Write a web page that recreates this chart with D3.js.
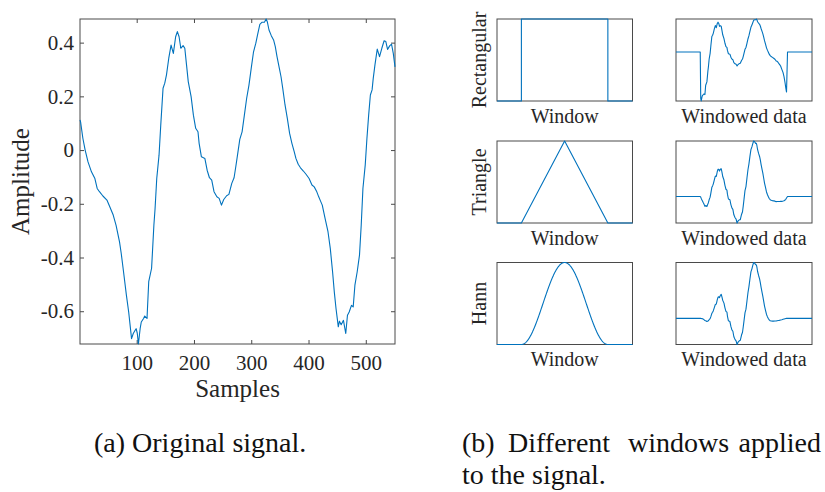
<!DOCTYPE html>
<html>
<head>
<meta charset="utf-8">
<script src="https://cdn.jsdelivr.net/npm/d3@7"></script>
<style>
  body { margin: 0; background: #fff; }
  svg { display: block; }
  text { font-family: "Liberation Serif", "DejaVu Serif", serif; fill: #262626; }
</style>
</head>
<body>
<svg id="fig" width="825" height="492"></svg>
<script>
// Recorded signal: sample index and amplitude
const sampleIdx = [
  1, 2, 6, 10, 15, 21, 27, 31, 35, 41,
  48, 53, 59, 64, 70, 73, 77, 82, 86, 91,
  94, 97, 99, 101, 103, 106, 108, 112, 114, 118,
  121, 126, 130, 132, 135, 139, 142, 146, 149, 152,
  156, 160, 164, 168, 171, 174, 177, 181, 184, 187,
  190, 195, 199, 203, 207, 209, 213, 219, 223, 227,
  231, 235, 240, 244, 248, 252, 257, 261, 266, 270,
  273, 276, 280, 284, 288, 292, 296, 300, 304, 308,
  311, 315, 319, 323, 326, 328, 331, 335, 339, 342,
  345, 349, 352, 355, 359, 363, 367, 371, 375, 378,
  382, 386, 391, 396, 401, 406, 410, 414, 418, 421,
  424, 429, 434, 438, 442, 445, 448, 452, 454, 457,
  461, 465, 468, 471, 475, 478, 481, 485, 489, 492,
  495, 499, 502, 505, 508, 511, 513, 516, 520, 524,
  528, 532, 535, 538, 542, 545, 548, 551
];
const amplitude = [
  0.112, 0.105, 0.044, 0.000, -0.044, -0.081, -0.106, -0.143, -0.155, -0.171,
  -0.186, -0.211, -0.242, -0.280, -0.342, -0.385, -0.453, -0.540, -0.603, -0.702,
  -0.683, -0.672, -0.665, -0.682, -0.722, -0.665, -0.640, -0.627, -0.618, -0.627,
  -0.490, -0.440, -0.280, -0.220, -0.106, -0.019, 0.093, 0.230, 0.249, 0.280,
  0.342, 0.391, 0.360, 0.422, 0.441, 0.422, 0.379, 0.389, 0.379, 0.317,
  0.255, 0.199, 0.130, 0.081, 0.068, 0.025, -0.025, -0.031, -0.075, -0.103,
  -0.112, -0.155, -0.174, -0.180, -0.205, -0.184, -0.170, -0.165, -0.124, -0.103,
  -0.062, -0.019, 0.040, 0.068, 0.130, 0.193, 0.242, 0.305, 0.366, 0.398,
  0.429, 0.468, 0.476, 0.476, 0.488, 0.478, 0.447, 0.426, 0.410, 0.385,
  0.348, 0.305, 0.273, 0.230, 0.168, 0.118, 0.062, 0.025, -0.006, -0.031,
  -0.053, -0.066, -0.078, -0.091, -0.106, -0.130, -0.137, -0.153, -0.175, -0.190,
  -0.205, -0.255, -0.304, -0.366, -0.453, -0.528, -0.590, -0.658, -0.637, -0.650,
  -0.634, -0.683, -0.615, -0.603, -0.578, -0.584, -0.503, -0.453, -0.391, -0.280,
  -0.143, -0.056, 0.044, 0.130, 0.205, 0.224, 0.267, 0.317, 0.376, 0.348,
  0.379, 0.407, 0.404, 0.375, 0.389, 0.394, 0.360, 0.310
];

const xTicks = [100, 200, 300, 400, 500];
const yTicks = [-0.6, -0.4, -0.2, 0, 0.2, 0.4];
const sampleRange = [1, 551];

// Window support (first and last sample inside the window)
const windowSpan = [100, 451];
const windowNames = ["Rectangular", "Triangle", "Hann"];

const LINE = "#0072BD";
const BOX = "#4a4a4a";
const SERIF = '"Liberation Serif", "DejaVu Serif", serif';

const svg = d3.select("#fig");
const signal = sampleIdx.map((s, i) => [s, amplitude[i]]);

// ---------- (a) original signal ----------
const main = { left: 80, right: 395, top: 19, bottom: 344 };
const x = d3.scaleLinear().domain(sampleRange).range([main.left, main.right]);
const y = d3.scaleLinear().domain(d3.extent(amplitude)).range([main.bottom, main.top]);

const fmt = d => d === 0 ? "0" : d.toFixed(1);

function styleAxis(g, labels) {
  g.attr("font-family", SERIF);
  g.select(".domain").remove();
  g.selectAll(".tick line").attr("stroke", BOX).attr("stroke-width", 1);
  g.selectAll(".tick text")
    .attr("fill", "#262626")
    .attr("font-family", SERIF)
    .style("font-size", "21px");
  if (!labels) g.selectAll(".tick text").remove();
}

svg.append("g").attr("transform", `translate(0,${main.bottom})`)
  .call(d3.axisBottom(x).tickValues(xTicks).tickSize(-4).tickPadding(11))
  .call(g => styleAxis(g, true));
svg.append("g").attr("transform", `translate(0,${main.top})`)
  .call(d3.axisTop(x).tickValues(xTicks).tickSize(-4))
  .call(g => styleAxis(g, false));
svg.append("g").attr("transform", `translate(${main.left},0)`)
  .call(d3.axisLeft(y).tickValues(yTicks).tickFormat(fmt).tickSize(-4).tickPadding(6))
  .call(g => styleAxis(g, true));
svg.append("g").attr("transform", `translate(${main.right},0)`)
  .call(d3.axisRight(y).tickValues(yTicks).tickSize(-4))
  .call(g => styleAxis(g, false));

svg.append("rect")
  .attr("x", main.left).attr("y", main.top)
  .attr("width", main.right - main.left).attr("height", main.bottom - main.top)
  .attr("fill", "none").attr("stroke", BOX).attr("stroke-width", 1);

const mainLine = d3.line().x(d => x(d[0])).y(d => y(d[1]));
svg.append("path").datum(signal)
  .attr("d", mainLine)
  .attr("fill", "none").attr("stroke", LINE).attr("stroke-width", 1.1)
  .attr("stroke-linejoin", "round");

svg.append("text")
  .attr("x", (main.left + main.right) / 2).attr("y", 396.5)
  .attr("text-anchor", "middle").style("font-size", "25px")
  .text("Samples");
svg.append("text")
  .attr("transform", `translate(29,${(main.top + main.bottom) / 2}) rotate(-90)`)
  .attr("text-anchor", "middle").style("font-size", "25px")
  .text("Amplitude");

// ---------- (b) windows and windowed signal ----------
const [w0, w1] = windowSpan;
const wc = (w0 + w1) / 2, wh = (w1 - w0) / 2;
const windowFns = {
  Rectangular: s => (s >= w0 && s <= w1 ? 1 : 0),
  Triangle: s => Math.max(0, 1 - Math.abs(s - wc) / wh),
  Hann: s => (s >= w0 && s <= w1 ? 0.5 * (1 - Math.cos(2 * Math.PI * (s - w0) / (w1 - w0))) : 0)
};
const windowCurves = {
  Rectangular: [[sampleRange[0], 0], [w0, 0], [w0, 1], [w1, 1], [w1, 0], [sampleRange[1], 0]],
  Triangle: [[sampleRange[0], 0], [w0, 0], [wc, 1], [w1, 0], [sampleRange[1], 0]],
  Hann: d3.range(sampleRange[0], sampleRange[1] + 1).map(s => [s, windowFns.Hann(s)])
};

const cols = [{ x0: 497, x1: 632.5, label: "Window" }, { x0: 676, x1: 812, label: "Windowed data" }];
const rowTops = [19, 141, 262.5];
const panelH = 82;

windowNames.forEach((name, r) => {
  const top = rowTops[r], bottom = top + panelH;
  const windowed = signal.map(([s, v]) => [s, v * windowFns[name](s)]);
  const series = [windowCurves[name], windowed];

  cols.forEach((c, k) => {
    const data = series[k];
    const sx = d3.scaleLinear().domain(sampleRange).range([c.x0, c.x1]);
    const sy = d3.scaleLinear()
      .domain(k === 0 ? [0, 1] : d3.extent(data, d => d[1]))
      .range([bottom, top]);

    svg.append("rect")
      .attr("x", c.x0).attr("y", top)
      .attr("width", c.x1 - c.x0).attr("height", panelH)
      .attr("fill", "none").attr("stroke", BOX).attr("stroke-width", 1);

    svg.append("path").datum(data)
      .attr("d", d3.line().x(d => sx(d[0])).y(d => sy(d[1])))
      .attr("fill", "none").attr("stroke", LINE).attr("stroke-width", 1.1)
      .attr("stroke-linejoin", "round");

    svg.append("text")
      .attr("x", (c.x0 + c.x1) / 2).attr("y", bottom + 21.5)
      .attr("text-anchor", "middle").style("font-size", "20px")
      .text(c.label);
  });

  svg.append("text")
    .attr("transform", `translate(486,${top + panelH / 2}) rotate(-90)`)
    .attr("text-anchor", "middle").style("font-size", "20px")
    .text(name);
});

// ---------- captions ----------
svg.append("text")
  .attr("x", 94).attr("y", 451.5).style("font-size", "28px").style("fill", "#111")
  .text("(a) Original signal.");

const capB = [
  { t: "(b)", x: 462, a: "start" },
  { t: "Different", x: 508, a: "start" },
  { t: "windows", x: 628, a: "start" },
  { t: "applied", x: 821, a: "end" }
];
capB.forEach(w => {
  svg.append("text")
    .attr("x", w.x).attr("y", 451.5).attr("text-anchor", w.a)
    .style("font-size", "28px").style("fill", "#111")
    .text(w.t);
});
svg.append("text")
  .attr("x", 462).attr("y", 483.5).style("font-size", "28px").style("fill", "#111")
  .text("to the signal.");
</script>
</body>
</html>
